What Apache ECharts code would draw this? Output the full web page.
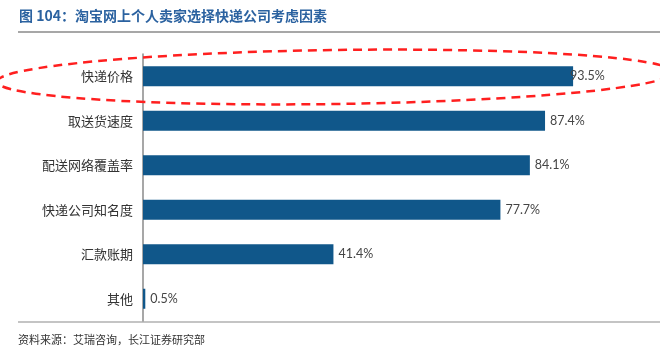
<!DOCTYPE html>
<html><head><meta charset="utf-8">
<script src="https://cdn.jsdelivr.net/npm/echarts@6/dist/echarts.min.js"></script>
<style>html,body{margin:0;padding:0;background:#fff}#c{width:660px;height:356px}</style>
</head><body><div id="c"></div>
<script>
const categories = ['快递价格','取送货速度','配送网络覆盖率','快递公司知名度','汇款账期','其他'];
const values = [93.5, 87.4, 84.1, 77.7, 41.4, 0.5];
const titleText = '图 104：淘宝网上个人卖家选择快递公司考虑因素';
const sourceText = '资料来源：艾瑞咨询，长江证券研究部';

const chart = echarts.init(document.getElementById('c'));
const cjk = '"Noto Sans CJK SC", sans-serif';
chart.setOption({
  animation: false,
  grid: {left: 143, top: 54, width: 460, height: 267},
  xAxis: {type: 'value', min: 0, max: 100, show: false},
  yAxis: {
    type: 'category', inverse: true, data: categories,
    axisLine: {lineStyle: {color: '#8a8a8a', width: 1.5}},
    axisTick: {inside: true, length: 4, lineStyle: {color: '#555'}},
    axisLabel: {color: '#333', fontSize: 13, fontFamily: cjk, margin: 10}
  },
  series: [{
    type: 'bar', barWidth: 20,
    data: values.map((v, i) => i === 0 ? {value: v, label: {offset: [-8, 0]}} : v),
    itemStyle: {color: '#10578a'},
    label: {show: true, position: 'right', distance: 5, formatter: '{c}%', color: '#444', fontSize: 12.5, fontFamily: 'Lato, sans-serif'}
  }],
  graphic: [
    {type: 'text', left: 19, top: 9, style: {text: titleText, fill: '#2b62a0', font: 'bold 14px ' + cjk}},
    {type: 'line', shape: {x1: 18, y1: 32, x2: 660, y2: 32}, style: {stroke: '#8a8a8a', lineWidth: 1.5}},
    {type: 'line', shape: {x1: 18, y1: 322, x2: 660, y2: 322}, style: {stroke: '#8a8a8a', lineWidth: 1.2}},
    {type: 'text', left: 18, top: 334, style: {text: sourceText, fill: '#333', font: '11px ' + cjk}},
    {type: 'ellipse', x: 335, y: 77, rotation: 0.014, shape: {cx: 0, cy: 0, rx: 338, ry: 27},
     style: {fill: 'none', stroke: '#ff1f1f', lineWidth: 2.5, lineDash: [9, 6]}, z: 10}
  ]
});
</script></body></html>
